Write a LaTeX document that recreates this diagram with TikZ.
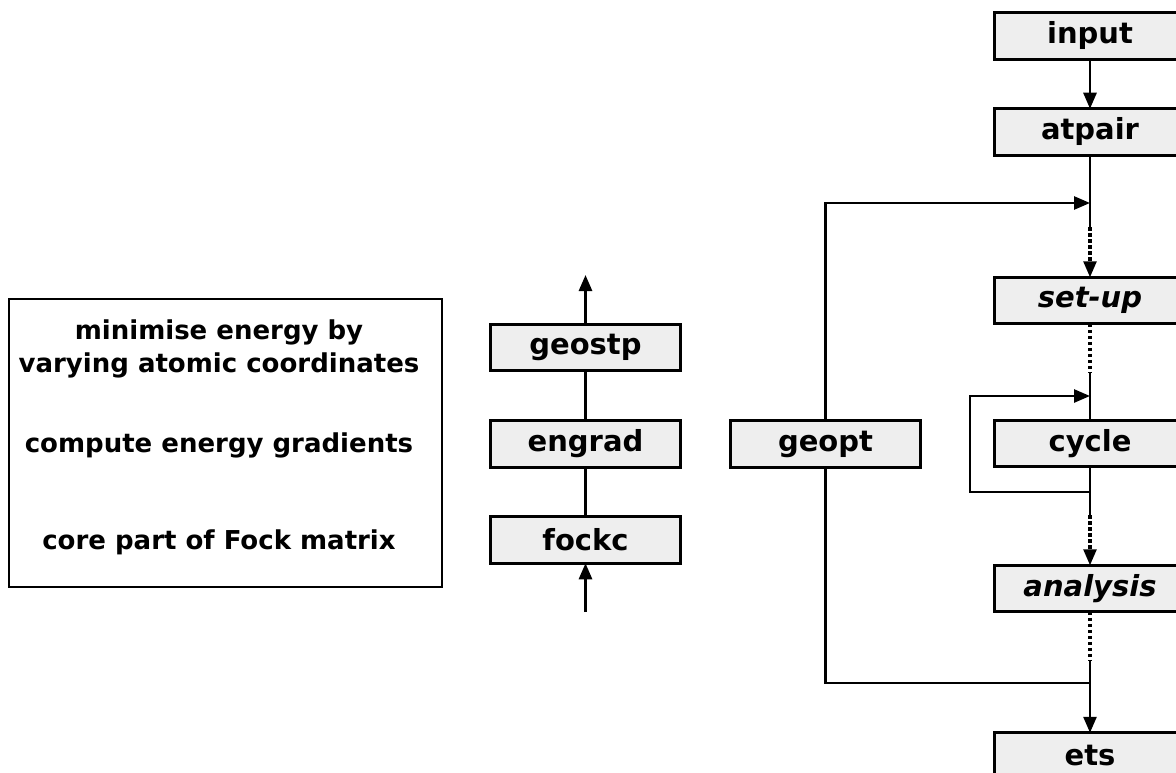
\documentclass[tikz,border=0pt]{standalone}
\usepackage{fontspec}
\setmainfont{DejaVu Sans}
\usetikzlibrary{arrows.meta,positioning,calc}
\definecolor{boxgray}{RGB}{238,238,238}

\begin{document}
\begin{tikzpicture}[x=1pt,y=-1pt,line width=2.7pt,font=\fontsize{29}{34}\selectfont\bfseries]

    \tikzstyle{routine}=[fill=boxgray,draw,outer sep=0pt,minimum width=190.5pt,minimum height=46.5pt,inner sep=0pt]
    \tikzstyle{flow}=[-{Triangle[length=16pt,width=13pt]}]
    \tikzstyle{skip}=[line width=3.5pt,dash pattern=on 3.5pt off 2.5pt]
    \tikzstyle{note}=[align=center,font=\fontsize{26}{33}\selectfont\bfseries]

    \useasboundingbox (0,0) rectangle (1176,773);
    \clip (0,0) rectangle (1176,773);

% main program column
\node (input) [routine] at (1090,36) {input};
\node (atpair) [routine,yshift=-96pt] at (input) {atpair};
\node (setup) [routine,yshift=-168.5pt] at (atpair) {\itshape set-up};
\node (cycle) [routine,yshift=-143pt] at (setup) {cycle};
\node (analysis) [routine,yshift=-145pt] at (cycle) {\itshape analysis};
\node (ets) [routine,yshift=-167.5pt] at (analysis) {ets};

\coordinate (geo_in) at (1090,203);
\coordinate (dot_1) at (1090,227);
\coordinate (dot_2) at (1090,372);
\coordinate (loop_in) at (1090,396);
\coordinate (loop_out) at (1090,492);
\coordinate (loop_corner) at (970,492);
\coordinate (dot_3) at (1090,515);
\coordinate (dot_4) at (1090,660);
\coordinate (geo_out) at (1090,683);

\draw[flow] (input) -- (atpair);
\draw (atpair) -- (dot_1);
\draw[skip] (dot_1) -- ([yshift=14pt]setup.north);
\draw[flow] ([yshift=15pt]setup.north) -- (setup.north);
\draw[skip] (setup) -- (dot_2);
\draw (dot_2) -- (cycle);
\draw (cycle) -- (dot_3);
\draw[skip] (dot_3) -- ([yshift=14pt]analysis.north);
\draw[flow] ([yshift=15pt]analysis.north) -- (analysis.north);
\draw[skip] (analysis) -- (dot_4);
\draw[flow] (dot_4) -- (ets);

% scf loop
\draw[flow] (loop_out) -- (loop_corner) |- (loop_in);

% geometry optimisation
\node (geopt) [routine] at (825.5,444) {geopt};
\draw[flow] (geopt) |- (geo_in);
\draw (geopt) |- (geo_out);

% call tree of one step
\node (geostp) [routine] at (585.5,347.5) {geostp};
\node (engrad) [routine,yshift=-96.5pt] at (geostp) {engrad};
\node (fockc) [routine,yshift=-96pt] at (engrad) {fockc};
\coordinate (up_end) at (585.5,275);
\coordinate (up_start) at (585.5,612);

\draw[flow] (geostp) -- (up_end);
\draw (geostp) -- (engrad);
\draw (engrad) -- (fockc);
\draw[flow] (up_start) -- (fockc);

% explanations
\node (legend) [draw,minimum width=433pt,minimum height=288pt] at (225.5,443) {};
\node (txt_geo) [note] at (219,348.5) {minimise energy by\\varying atomic coordinates};
\node (txt_grad) [note] at (219,445) {compute energy gradients};
\node (txt_core) [note] at (219,542) {core part of Fock matrix};

\end{tikzpicture}
\end{document}
